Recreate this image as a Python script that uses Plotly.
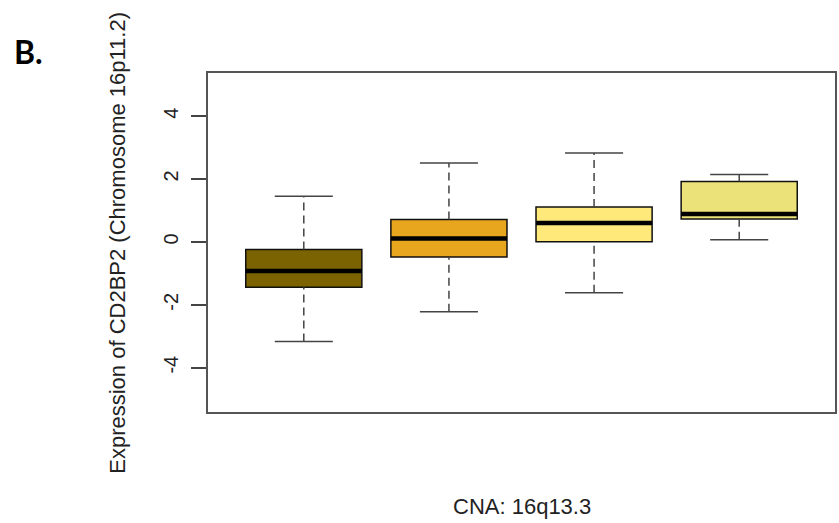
import plotly.graph_objects as go

# ---- data ----
groups = [1, 2, 3, 4]
lower_whisker = [-3.17, -2.22, -1.62, 0.07]
q1 = [-1.44, -0.48, 0.00, 0.73]
median = [-0.93, 0.11, 0.60, 0.89]
q3 = [-0.24, 0.71, 1.11, 1.92]
upper_whisker = [1.45, 2.51, 2.83, 2.14]
box_colors = ["#7a6300", "#e8a61e", "#ffe97a", "#ebe27a"]
y_ticks = [-4, -2, 0, 2, 4]

y_title = "Expression of CD2BP2 (Chromosome 16p11.2)"
x_title = "CNA: 16q13.3"
panel_label = "B."

BOX_W = 0.8
CAP_W = 0.4
FONT = "Liberation Sans, Arial, sans-serif"

fig = go.Figure()

# dashed whiskers
wx, wy = [], []
for g, lo, a, b, hi in zip(groups, lower_whisker, q1, q3, upper_whisker):
    wx += [g, g, None, g, g, None]
    wy += [lo, a, None, b, hi, None]
fig.add_trace(go.Scatter(x=wx, y=wy, mode="lines", hoverinfo="skip",
                         line=dict(color="#444444", width=1.5, dash="8px,5px"),
                         showlegend=False))
# whisker caps
cx, cy = [], []
for g, lo, hi in zip(groups, lower_whisker, upper_whisker):
    cx += [g - CAP_W / 2, g + CAP_W / 2, None, g - CAP_W / 2, g + CAP_W / 2, None]
    cy += [lo, lo, None, hi, hi, None]
fig.add_trace(go.Scatter(x=cx, y=cy, mode="lines", hoverinfo="skip",
                         line=dict(color="#444444", width=1.5),
                         showlegend=False))

# boxes
for g, a, m, b, c in zip(groups, q1, median, q3, box_colors):
    fig.add_trace(go.Box(x=[g], q1=[a], median=[m], q3=[b],
                         lowerfence=[a], upperfence=[b],
                         width=BOX_W, fillcolor=c,
                         line=dict(color="#111111", width=1.5),
                         whiskerwidth=0, showlegend=False, hoverinfo="skip"))

# thick medians
mx, my = [], []
for g, m in zip(groups, median):
    mx += [g - BOX_W / 2, g + BOX_W / 2, None]
    my += [m, m, None]
fig.add_trace(go.Scatter(x=mx, y=my, mode="lines", hoverinfo="skip",
                         line=dict(color="black", width=4.5),
                         showlegend=False))

fig.update_layout(
    width=839, height=523,
    margin=dict(l=208, r=2, t=73, b=111),
    paper_bgcolor="white", plot_bgcolor="white",
    font=dict(family=FONT, size=20, color="#222222"),
    showlegend=False,
    xaxis=dict(range=[0.34, 4.66], showticklabels=False, ticks="",
               showgrid=False, zeroline=False,
               showline=True, mirror=True, linecolor="#555555", linewidth=1.5),
    yaxis=dict(range=[-5.41, 5.37], tickvals=y_ticks,
               ticktext=[str(v) for v in y_ticks],
               tickangle=-90, ticks="outside", ticklen=15, tickwidth=1.5,
               tickcolor="#444444", ticklabelstandoff=5,
               tickfont=dict(size=20, family=FONT, color="#222222"),
               showgrid=False, zeroline=False,
               showline=True, mirror=True, linecolor="#555555", linewidth=1.5),
    annotations=[
        dict(text=y_title, xref="paper", yref="paper", x=-0.1447, y=0.5,
             textangle=-90, showarrow=False, xanchor="center", yanchor="middle",
             font=dict(size=22, family=FONT, color="#222222")),
        dict(text=x_title, xref="paper", yref="paper", x=0.5, y=-0.28,
             showarrow=False, xanchor="center", yanchor="middle",
             font=dict(size=22, family=FONT, color="#222222")),
        dict(text="<b>" + panel_label + "</b>", xref="paper", yref="paper",
             x=-0.3132, y=1.062, showarrow=False, xanchor="left", yanchor="middle",
             font=dict(size=32, family="Lato, Open Sans, sans-serif", color="black")),
    ],
)

fig.write_html("out.html")
